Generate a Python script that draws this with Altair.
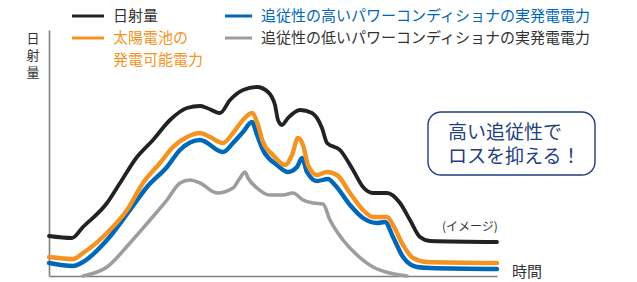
import altair as alt
import pandas as pd

# ---- data (time index 0..448, level 0..246) ----
black_t = [0, 23, 34, 58, 71, 88, 104, 121, 138, 151, 158, 171, 181, 194, 208, 219, 226, 229, 233,
           239, 251, 263, 273, 278, 291, 304, 314, 324, 338, 351, 361, 371, 381, 448]
black_v = [40, 38, 49, 73, 93, 119, 136, 156, 168, 170, 168, 163, 176, 186, 189, 184, 171, 156, 151,
           158, 166, 163, 148, 133, 126, 106, 89, 83, 83, 73, 56, 39, 35, 34]

orange_t = [0, 24, 34, 58, 78, 94, 111, 124, 138, 151, 161, 174, 184, 194, 203, 209, 214, 224, 236,
            243, 249, 254, 259, 268, 278, 288, 301, 314, 324, 338, 344, 354, 364, 378, 448]
orange_v = [19, 17, 23, 43, 66, 93, 113, 129, 139, 143, 139, 133, 143, 156, 163, 151, 134, 121, 111,
            121, 138, 131, 111, 101, 104, 101, 83, 66, 59, 59, 51, 31, 18, 14, 13]

blue_t = [0, 24, 34, 58, 81, 98, 118, 131, 151, 174, 184, 194, 203, 208, 214, 228, 239, 248, 253,
          258, 268, 279, 286, 301, 314, 328, 336, 344, 354, 368, 381, 448]
blue_v = [13, 10, 14, 36, 66, 89, 109, 126, 136, 124, 133, 144, 154, 141, 126, 111, 104, 109, 118,
          104, 95, 97, 91, 71, 58, 53, 54, 39, 19, 9, 8, 7]

gray_t = [34, 58, 81, 101, 118, 131, 141, 151, 168, 184, 191, 196, 199, 208, 221, 234, 244, 254,
          264, 274, 281, 294, 308, 324, 341, 358]
gray_v = [0, 9, 33, 56, 76, 93, 96, 93, 83, 88, 98, 104, 98, 88, 81, 81, 83, 76, 73, 72, 56, 36,
          21, 9, 3, 0]

label_sun = "日射量"
label_high = "追従性の高いパワーコンディショナの実発電電力"
label_cell = ["太陽電池の", "発電可能電力"]
label_low = "追従性の低いパワーコンディショナの実発電電力"
y_title_chars = ["日", "射", "量"]
x_title = "時間"
note_text = "(イメージ)"
box_lines = ["高い追従性で", "ロスを抑える！"]

BLACK = "#222222"
ORANGE = "#f39323"
BLUE = "#0068b7"
GRAY = "#9c9d9f"
NAVY = "#1f3f7f"
TEXT = "#333333"
FONT = "Noto Sans CJK JP"

xscale = alt.Scale(domain=[0, 448], nice=False, zero=False)
yscale = alt.Scale(domain=[0, 246], nice=False, zero=False)
axis = alt.Axis(title=None, labels=False, ticks=False, grid=False,
                domainColor="#808080", domainWidth=1.6)


def series(ts, vs, color, width):
    df = pd.DataFrame({"t": ts, "v": vs})
    return alt.Chart(df).mark_line(
        color=color, strokeWidth=width, interpolate="monotone",
        strokeCap="round", strokeJoin="round"
    ).encode(
        x=alt.X("t:Q", scale=xscale, axis=axis),
        y=alt.Y("v:Q", scale=yscale, axis=axis),
        order="t:Q",
    )


def text(label, x, y, color=TEXT, size=15, align="left", line_height=None):
    kw = dict(font=FONT, fontSize=size, color=color, align=align, baseline="middle", text=label)
    if line_height is not None:
        kw["lineHeight"] = line_height
    return alt.Chart(pd.DataFrame({"a": [0]})).mark_text(**kw).encode(
        x=alt.value(x), y=alt.value(y))


def legend_rule(x1, x2, y, color):
    return alt.Chart(pd.DataFrame({"a": [0]})).mark_rule(
        color=color, strokeWidth=3
    ).encode(x=alt.value(x1), x2=alt.value(x2), y=alt.value(y))


box = alt.Chart(pd.DataFrame({"a": [0]})).mark_rect(
    fill="white", stroke=NAVY, strokeWidth=1.4, cornerRadius=13
).encode(x=alt.value(379), x2=alt.value(546), y=alt.value(82), y2=alt.value(145))

layers = [
    series(gray_t, gray_v, GRAY, 3.6),
    series(blue_t, blue_v, BLUE, 4.4),
    series(orange_t, orange_v, ORANGE, 4.4),
    series(black_t, black_v, BLACK, 3.8),
    legend_rule(23, 55, -14, BLACK),
    legend_rule(176, 203, -14, BLUE),
    legend_rule(23, 55, 8, ORANGE),
    legend_rule(176, 203, 8, GRAY),
    text(label_sun, 64, -14, TEXT),
    text(label_high, 212, -14, BLUE),
    text(label_cell, 64, 8, ORANGE, line_height=22),
    text(label_low, 212, 8, TEXT),
    text(y_title_chars, -16, 9, TEXT, 13, "center", line_height=17),
    text(x_title, 463, 242, TEXT, 15),
    text(note_text, 393, 197, TEXT, 12),
    box,
    text(box_lines, 399, 103, NAVY, 19, line_height=24),
]

chart = alt.layer(*layers).properties(
    width=448, height=246,
    autosize=alt.AutoSizeParams(type="none"),
    padding={"left": 41, "top": 22, "right": 111, "bottom": 6},
).configure_view(stroke=None)

chart.save("out.html", embed_options={"renderer": "svg", "actions": False})
